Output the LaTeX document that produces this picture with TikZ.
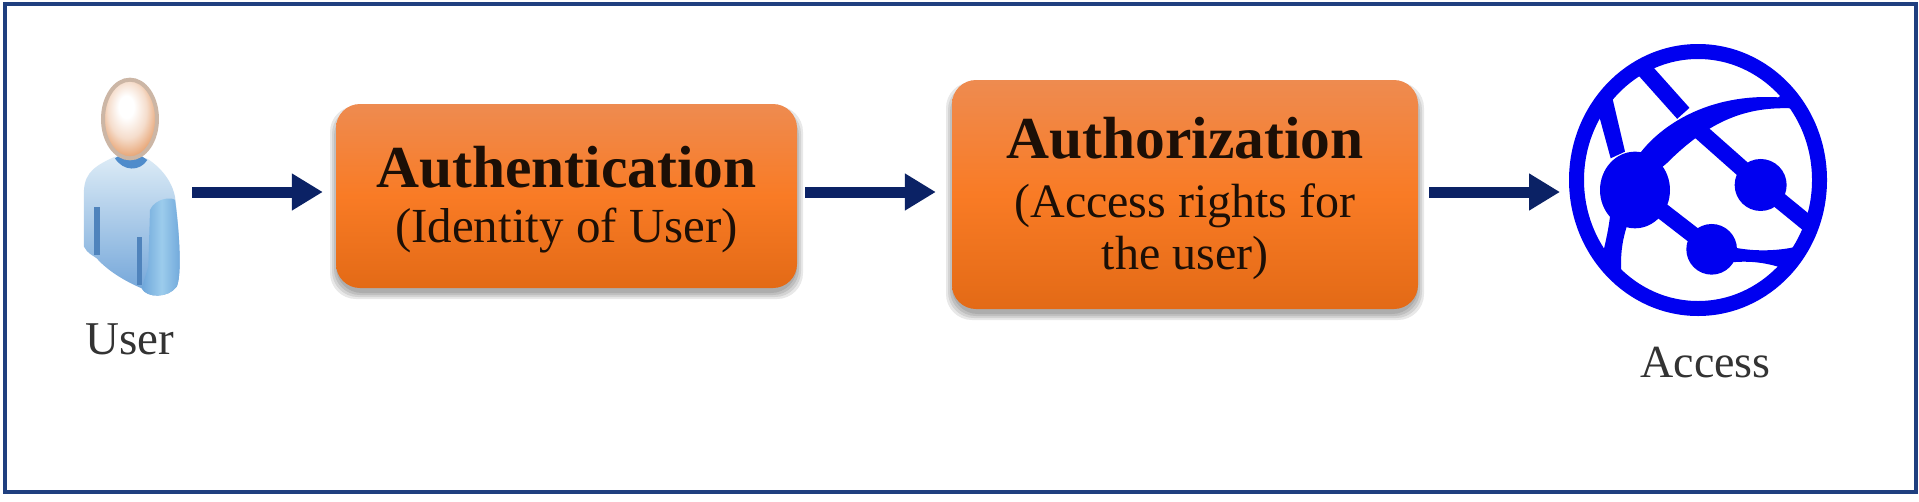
\documentclass[tikz,border=0pt]{standalone}
\usepackage{fontspec}
\setmainfont{Liberation Serif}
\usetikzlibrary{arrows.meta,shapes.geometric}
\definecolor{navy}{HTML}{0B2265}
\definecolor{frame}{HTML}{1F3F7F}
\definecolor{globeblue}{HTML}{0000F0}
\definecolor{inkdark}{HTML}{1C0F06}
\definecolor{labelgrey}{HTML}{333333}
\definecolor{HeadMid}{HTML}{F5DDCC}
\definecolor{HeadOut}{HTML}{E59A64}
\definecolor{boxtop}{HTML}{EE8B50}
\definecolor{boxmid}{HTML}{F97B25}
\definecolor{boxbot}{HTML}{E36A16}
\definecolor{bodytop}{HTML}{DCEBF6}
\definecolor{bodybot}{HTML}{6FA3D8}
\definecolor{armedge}{HTML}{6EA6DA}
\definecolor{armmid}{HTML}{9CCCEC}
\definecolor{collar}{HTML}{4F8CCB}
\definecolor{fold}{HTML}{4F83BC}
\pgfdeclareradialshading{headshade}{\pgfpoint{-4bp}{9bp}}{%
  color(0bp)=(white);color(7bp)=(white);color(18bp)=(HeadMid);color(30bp)=(HeadOut);color(50bp)=(HeadOut)}
\tikzset{
  procbox/.style={rectangle,rounded corners=24pt,minimum width=#1,inner sep=0pt,align=center,
    text=inkdark,top color=boxtop,bottom color=boxbot,middle color=boxmid,
    font=\fontsize{49}{55}\selectfont},
  flow/.style={draw=navy,line width=11pt,-{Triangle[length=31pt,width=35pt]}},
  caption/.style={text=labelgrey,font=\fontsize{47}{50}\selectfont,inner sep=0pt,anchor=base},
  glyph/.style={fill=globeblue,draw=none},
  limb/.style={draw=globeblue,line width=16.5pt},
  boxshadow/.style={fill=black,fill opacity=0.09,draw=none,rounded corners=26pt}
}
\newcommand{\titlefont}{\fontsize{59.5}{60}\selectfont\bfseries}
\newcommand{\subfont}{\fontsize{49}{55}\selectfont}
\newcommand{\subfontb}{\fontsize{48}{55}\selectfont}
\begin{document}
\begin{tikzpicture}[x=1pt,y=-1pt]
\useasboundingbox (0,0) rectangle (1919,501);
\fill[white] (0,0) rectangle (1919,501);
\draw[frame,line width=4pt] (4.5,3.5) rectangle (1916,491.5);

% box shadows
\foreach \g in {0,2,4,6}{
  \fill[boxshadow] (336-\g,112-\g) rectangle (797+\g,293+\g);
  \fill[boxshadow] (952-\g,88-\g) rectangle (1418+\g,314+\g);
}

% user icon
\node[minimum width=96pt,minimum height=96pt,inner sep=0pt] (usr) at (130,192) {};
\begin{scope}[shift={(40,50)},x=0.3333pt,y=-0.3333pt]
  \path[top color=bodytop,bottom color=bodybot,draw=none]
    (225,320) .. controls (170,345) and (135,365) .. (132,420)
    -- (132,590) .. controls (140,610) and (165,620) .. (170,625)
    .. controls (210,670) and (270,700) .. (305,715)
    .. controls (320,745) and (385,745) .. (410,710)
    .. controls (425,680) and (420,560) .. (405,440)
    .. controls (395,390) and (360,350) .. (320,325) -- cycle;
  \path[left color=armedge,right color=armedge,middle color=armmid,draw=none]
    (330,480) .. controls (345,445) and (395,440) .. (405,450)
    .. controls (420,560) and (425,680) .. (410,710)
    .. controls (385,745) and (320,745) .. (305,715) -- (325,650) -- cycle;
  \fill[collar] (225,325) .. controls (250,365) and (300,365) .. (322,330)
    -- (300,315) -- (240,315) -- cycle;
  \fill[fold] (162,470) rectangle (180,615);
  \fill[fold] (290,560) rectangle (305,705);
  \shade[shading=headshade,draw={rgb,255:red,204;green,182;blue,165},line width=4pt]
    (270,207) ellipse [x radius=81,y radius=118];
\end{scope}

% boxes
\node[procbox=461pt,minimum height=184pt] (auth) at (566.5,196)
  {\rule{0pt}{49pt}{\titlefont Authentication}\\{\subfont (Identity of User)}};
\node[procbox=466pt,minimum height=229pt] (authz) at (1185,194.5)
  {\rule{0pt}{50pt}{\titlefont Authorization}\\[4pt]{\subfontb (Access rights for}\\[-3pt]{\subfontb the user)}};

% globe
\node[ellipse,draw=globeblue,line width=15pt,minimum width=243pt,minimum height=257pt,inner sep=0pt,outer sep=0pt,fill=white] (globe) at (1698,180) {};
\begin{scope}[shift={(1520,20)},x=0.3333pt,y=-0.3333pt]
  \fill[globeblue] (345,510) ellipse [x radius=105,y radius=115];
  \fill[globeblue] (722,495) circle [radius=78];
  \fill[globeblue] (575,688) circle [radius=76];
  \draw[limb] (365,140) -- (490,280);
  \draw[limb] (530,325) -- (722,495) -- (875,620);
  \draw[limb] (345,510) -- (575,688);
  \fill[glyph] (360,400) .. controls (420,320) and (560,220) .. (775,232)
    -- (800,215) -- (840,265) -- (815,265) .. controls (680,260) and (570,300) .. (440,430) -- (345,510) -- cycle;
  \fill[glyph] (238,290) -- (272,415) -- (315,395) -- (275,225) -- cycle;
  \fill[glyph] (270,590) .. controls (265,630) and (258,660) .. (250,695)
    -- (305,775) .. controls (300,710) and (305,670) .. (320,620) -- cycle;
  \fill[glyph] (640,682) .. controls (700,695) and (780,695) .. (850,675)
    -- (790,745) .. controls (730,725) and (680,722) .. (625,728) -- cycle;
\end{scope}

% captions
\node[caption] (usrcap) at (130,354) {User};
\node[caption,font=\fontsize{46}{50}\selectfont] (acccap) at (1705.5,377) {Access};

% connectors
\draw[flow] ([xshift=14pt]usr.east) -- ([xshift=-13pt,yshift=4pt]auth.west);
\draw[flow] ([xshift=8pt,yshift=4pt]auth.east) -- ([xshift=-16pt,yshift=2.5pt]authz.west);
\draw[flow] ([xshift=11pt,yshift=2.5pt]authz.east) -- ([xshift=-16.5pt,yshift=-12pt]globe.west);
\end{tikzpicture}
\end{document}
